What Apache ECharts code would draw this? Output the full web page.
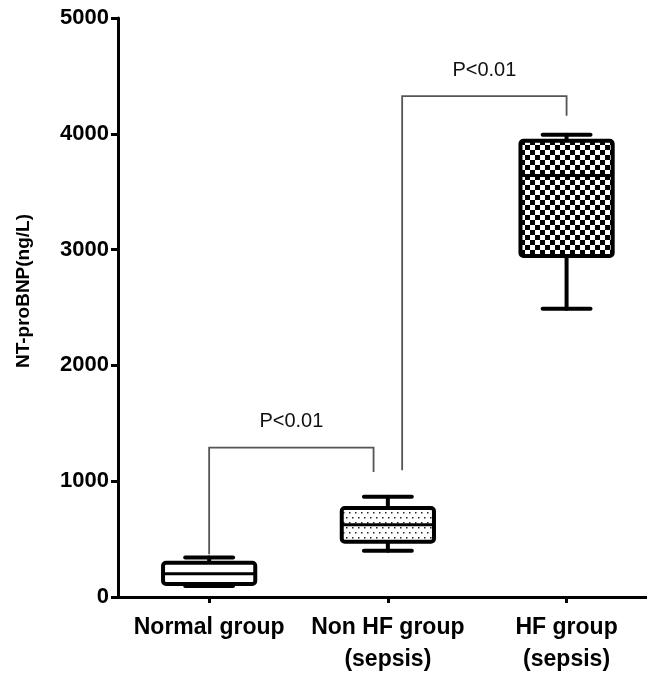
<!DOCTYPE html>
<html>
<head>
<meta charset="utf-8">
<script src="https://cdn.jsdelivr.net/npm/echarts@6/dist/echarts.min.js"></script>
<style>html,body{margin:0;padding:0;background:#fff}#c{width:647px;height:676px}</style>
</head>
<body>
<div id="c"></div>
<script>
// ---- data ----
var categories = ['Normal group', 'Non HF group\n(sepsis)', 'HF group\n(sepsis)'];
var positions = [1, 2, 3];
var minVals = [95, 400, 2490];
var q1Vals = [112, 478, 2945];
var medianVals = [200, 625, 3640];
var q3Vals = [296, 768, 3940];
var maxVals = [342, 865, 3992];
var fillKinds = ['none', 'dots', 'checker'];
var yTicks = [0, 1000, 2000, 3000, 4000, 5000];
var yTitle = 'NT-proBNP(ng/L)';
// significance brackets: [xLeft, xRight, yTop, yLeftEnd, yRightEnd]
var bracketX = [[1, 1.92], [2.08, 3]];
var bracketTop = [1290, 4325];
var bracketLeftEnd = [370, 1095];
var bracketRightEnd = [1080, 4155];
var bracketText = ['P<0.01', 'P<0.01'];
var bracketTextY = [1515, 4548];

// ---- patterns ----
function makeChecker() {
  var c = document.createElement('canvas');
  c.width = 10; c.height = 10;
  var g = c.getContext('2d');
  g.fillStyle = '#fff'; g.fillRect(0, 0, 10, 10);
  g.fillStyle = '#000';
  g.fillRect(0, 0, 5, 5);
  g.fillRect(5, 5, 5, 5);
  return c;
}
function makeDots() {
  var c = document.createElement('canvas');
  c.width = 12; c.height = 10;
  var g = c.getContext('2d');
  g.fillStyle = '#fff'; g.fillRect(0, 0, 12, 10);
  g.fillStyle = '#222';
  g.fillRect(1, 2, 1.5, 1.5);
  g.fillRect(7, 2, 1.5, 1.5);
  g.fillRect(4, 7, 1.5, 1.5);
  g.fillRect(10, 7, 1.5, 1.5);
  return c;
}
var patterns = {
  none: '#fff',
  dots: { image: makeDots(), repeat: 'repeat' },
  checker: { image: makeChecker(), repeat: 'repeat' }
};

var boxData = positions.map(function (p, i) {
  return [p, minVals[i], q1Vals[i], medianVals[i], q3Vals[i], maxVals[i], i];
});

var chart = echarts.init(document.getElementById('c'));
var FONT = '"Liberation Sans", Arial, sans-serif';

chart.setOption({
  animation: false,
  backgroundColor: '#fff',
  grid: { left: 118, top: 18, width: 529, height: 585, containLabel: false },
  graphic: [{
    type: 'text', x: 24, y: 291, rotation: Math.PI / 2,
    style: { text: yTitle, fill: '#000', font: 'bold 19px ' + FONT, align: 'center', verticalAlign: 'middle' }
  }],
  xAxis: {
    type: 'value', min: 0.49, max: 3.45,
    splitLine: { show: false },
    axisLine: { show: true, onZero: false, lineStyle: { color: '#000', width: 3 } },
    axisTick: { show: true, length: 6, inside: false, lineStyle: { color: '#000', width: 3 }, customValues: positions },
    axisLabel: {
      customValues: positions,
      formatter: function (v) { var i = positions.indexOf(Math.round(v)); return i >= 0 ? categories[i] : ''; },
      color: '#000', fontFamily: FONT, fontWeight: 'bold', fontSize: 23, lineHeight: 32, margin: 15
    }
  },
  yAxis: {
    type: 'value', min: 0, max: 5000, interval: 1000,
    splitLine: { show: false },
    axisLine: { show: true, lineStyle: { color: '#000', width: 3 } },
    axisTick: { show: true, length: 7, lineStyle: { color: '#000', width: 3 } },
    axisLabel: { color: '#000', fontFamily: FONT, fontWeight: 'bold', fontSize: 22, margin: 9,
      formatter: function (v) { return yTicks.indexOf(v) >= 0 ? String(v) : ''; } }
  },
  series: [
    {
      type: 'custom',
      data: boxData,
      renderItem: function (params, api) {
        var x = api.value(0);
        var idx = api.value(6);
        var halfBox = 0.258, halfCap = 0.134;
        var pMin = api.coord([x, api.value(1)]);
        var pQ1 = api.coord([x, api.value(2)]);
        var pMed = api.coord([x, api.value(3)]);
        var pQ3 = api.coord([x, api.value(4)]);
        var pMax = api.coord([x, api.value(5)]);
        var xl = api.coord([x - halfBox, 0])[0];
        var xr = api.coord([x + halfBox, 0])[0];
        var cl = api.coord([x - halfCap, 0])[0];
        var cr = api.coord([x + halfCap, 0])[0];
        var cx = pMed[0];
        var ls = { stroke: '#000', lineWidth: 4, lineCap: 'round' };
        return {
          type: 'group',
          children: [
            { type: 'line', shape: { x1: cx, y1: pMax[1], x2: cx, y2: pQ3[1] }, style: ls },
            { type: 'line', shape: { x1: cx, y1: pMin[1], x2: cx, y2: pQ1[1] }, style: ls },
            { type: 'line', shape: { x1: cl, y1: pMax[1], x2: cr, y2: pMax[1] }, style: ls },
            { type: 'line', shape: { x1: cl, y1: pMin[1], x2: cr, y2: pMin[1] }, style: ls },
            { type: 'rect', shape: { x: xl, y: pQ3[1], width: xr - xl, height: pQ1[1] - pQ3[1], r: 3 },
              style: { fill: patterns[fillKinds[idx]], stroke: '#000', lineWidth: 4 } },
            { type: 'line', shape: { x1: xl, y1: pMed[1], x2: xr, y2: pMed[1] }, style: { stroke: '#000', lineWidth: 3 } }
          ]
        };
      }
    },
    {
      type: 'custom',
      data: bracketX.map(function (b, i) { return [b[0], b[1], bracketTop[i], bracketLeftEnd[i], bracketRightEnd[i], bracketTextY[i], i]; }),
      renderItem: function (params, api) {
        var i = api.value(6);
        var a = api.coord([api.value(0), api.value(3)]);
        var b = api.coord([api.value(0), api.value(2)]);
        var c = api.coord([api.value(1), api.value(2)]);
        var d = api.coord([api.value(1), api.value(4)]);
        var t = api.coord([(api.value(0) + api.value(1)) / 2, api.value(5)]);
        return {
          type: 'group',
          children: [
            { type: 'polyline', shape: { points: [a, b, c, d] }, style: { stroke: '#555', lineWidth: 1.8, fill: null } },
            { type: 'text', x: t[0], y: t[1], style: { text: bracketText[i], fill: '#111', font: '20px ' + FONT, align: 'center', verticalAlign: 'middle' } }
          ]
        };
      }
    }
  ]
});
</script>
</body>
</html>
